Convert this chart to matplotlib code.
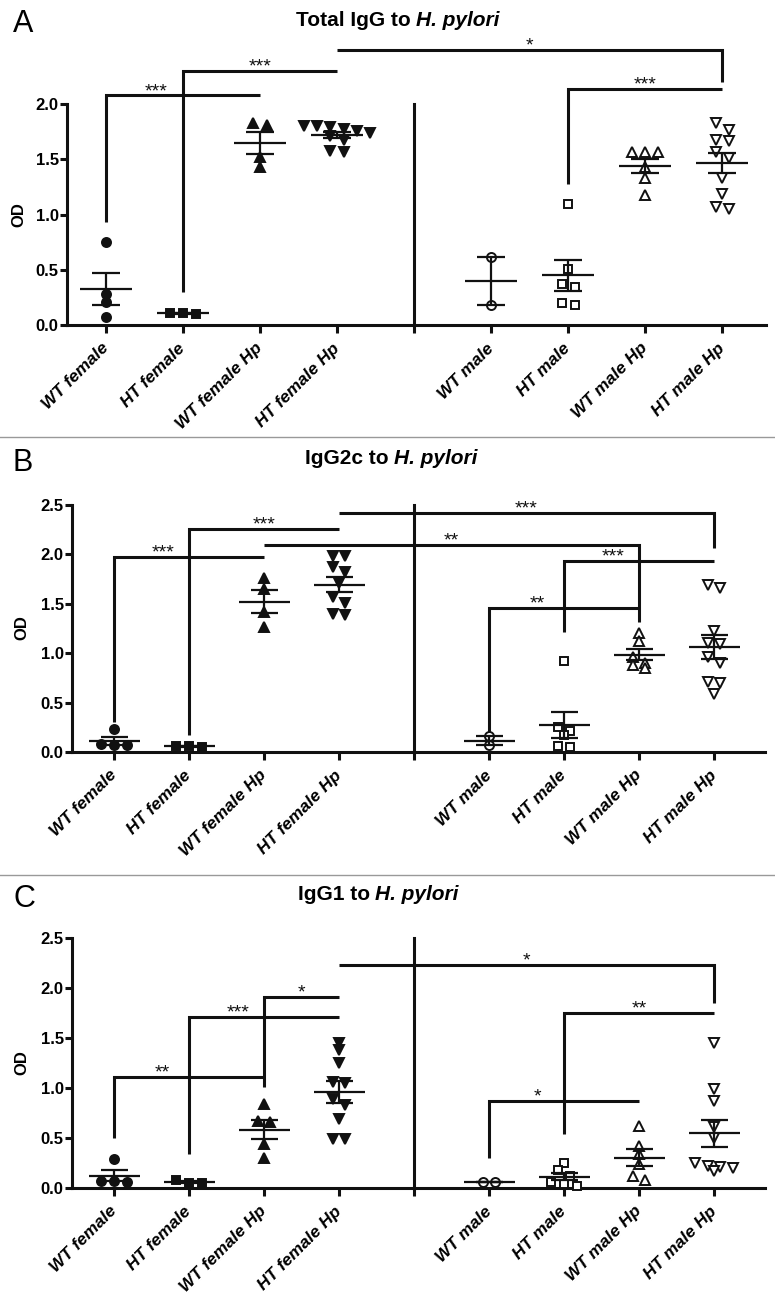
import numpy as np
import matplotlib
matplotlib.use("Agg")
import matplotlib.pyplot as plt
from matplotlib.lines import Line2D

plt.rcParams['font.family'] = ['Liberation Sans', 'DejaVu Sans']

W, H = 775, 1313

groups = ["WT female", "HT female", "WT female Hp", "HT female Hp",
          "WT male", "HT male", "WT male Hp", "HT male Hp"]

# OD per mouse
# A: total IgG
tot_wt_f = [0.75, 0.28, 0.21, 0.07]
tot_ht_f = [0.11, 0.10, 0.11]
tot_wt_f_hp = [1.83, 1.81, 1.52, 1.43]
tot_ht_f_hp = [1.80, 1.80, 1.79, 1.78, 1.76, 1.74, 1.71, 1.68, 1.58, 1.57]
tot_wt_m = [0.62, 0.18]
tot_ht_m = [1.10, 0.51, 0.37, 0.34, 0.20, 0.18]
tot_wt_m_hp = [1.57, 1.57, 1.57, 1.43, 1.33, 1.18]
tot_ht_m_hp = [1.83, 1.77, 1.68, 1.67, 1.57, 1.51, 1.33, 1.19, 1.07, 1.05]

# B: IgG2c
g2c_wt_f = [0.23, 0.08, 0.07, 0.07]
g2c_ht_f = [0.06, 0.05, 0.06]
g2c_wt_f_hp = [1.76, 1.65, 1.42, 1.26]
g2c_ht_f_hp = [1.98, 1.98, 1.875, 1.825, 1.71, 1.57, 1.505, 1.40, 1.39]
g2c_wt_m = [0.07, 0.16]
g2c_ht_m = [0.92, 0.25, 0.21, 0.17, 0.06, 0.05]
g2c_wt_m_hp = [1.20, 1.12, 0.965, 0.90, 0.88, 0.85]
g2c_ht_m_hp = [1.69, 1.66, 1.225, 1.10, 1.09, 0.965, 0.90, 0.71, 0.70, 0.59]

# C: IgG1
g1_wt_f = [0.29, 0.07, 0.07, 0.06]
g1_ht_f = [0.08, 0.05, 0.05]
g1_wt_f_hp = [0.84, 0.67, 0.66, 0.44, 0.30]
g1_ht_f_hp = [1.45, 1.38, 1.25, 1.06, 1.05, 0.89, 0.83, 0.69, 0.49, 0.49]
g1_wt_m = [0.06, 0.06]
g1_ht_m = [0.25, 0.18, 0.12, 0.06, 0.04, 0.02]
g1_wt_m_hp = [0.62, 0.42, 0.34, 0.24, 0.12, 0.08]
g1_ht_m_hp = [1.45, 0.99, 0.87, 0.61, 0.50, 0.25, 0.22, 0.21, 0.20, 0.17]

# significance bars: (group a, group b, bar height, left drop to, right drop to, label)
sig_tot = [(0, 2, 2.08, 0.935, None, "***"),
           (1, 3, 2.30, 0.30, None, "***"),
           (3, 7, 2.49, None, 2.20, "*"),
           (5, 7, 2.14, 1.275, None, "***")]
sig_g2c = [(0, 2, 1.97, 0.30, None, "***"),
           (1, 3, 2.26, 0.17, None, "***"),
           (2, 6, 2.095, None, 1.32, "**"),
           (3, 7, 2.42, None, 2.06, "***"),
           (5, 7, 1.93, 1.21, None, "***"),
           (4, 6, 1.455, 0.20, None, "**")]
sig_g1 = [(0, 2, 1.11, 0.505, None, "**"),
          (1, 3, 1.71, 0.34, None, "***"),
          (2, 3, 1.91, 1.01, None, "*"),
          (3, 7, 2.23, None, 1.85, "*"),
          (5, 7, 1.75, 0.54, None, "**"),
          (4, 6, 0.875, 0.30, None, "*")]

xpos = [i if i < 4 else i + 1 for i in range(8)]
shapes = ['o', 's', '^', 'v']
msize = [6.5, 6.0, 7.5, 7.5]
ink = '#111111'


def swarm_offsets(vals, thr=0.07, step=0.17):
    vals = np.asarray(vals)
    order = np.argsort(-vals, kind='stable')
    offs = np.zeros(len(vals))
    i = 0
    while i < len(order):
        top = vals[order[i]]
        j = i
        while j < len(order) and top - vals[order[j]] < thr:
            j += 1
        n = j - i
        for k in range(n):
            offs[order[i + k]] = (k - (n - 1) / 2) * step
        i = j
    return offs


def draw_panel(box, xlim, data, sig, ytop, title, letter, title_xy, letter_xy, od_xy):
    left, right, y0, top = box
    ax = fig.add_axes([left / W, 1 - y0 / H, (right - left) / W, (y0 - top) / H])
    ax.set_xlim(*xlim)
    ax.set_ylim(0, 2.6)
    for s in ['top', 'right']:
        ax.spines[s].set_visible(False)
    for s in ['left', 'bottom']:
        ax.spines[s].set_linewidth(2.2)
        ax.spines[s].set_color(ink)
    ax.spines['left'].set_bounds(0, ytop)
    ax.set_yticks(np.arange(0, ytop + 0.01, 0.5))
    ax.set_yticklabels([f"{v:.1f}" for v in np.arange(0, ytop + 0.01, 0.5)],
                       fontsize=12, fontweight='bold')
    ax.set_xticks(list(range(9)))
    ax.set_xticklabels(groups[:4] + [""] + groups[4:], rotation=45, ha='right',
                       va='center', rotation_mode='anchor', fontsize=12.5,
                       fontweight='bold', fontstyle='italic')
    ax.tick_params(axis='y', length=5, width=2.2, pad=1, color=ink)
    ax.tick_params(axis='x', length=6, width=2.2, pad=9, color=ink)

    # axis break between female and male groups
    ax.plot([4, 4], [0, ytop], color=ink, lw=2.2, clip_on=False, zorder=2)

    # vertical strokes, used to keep star labels off them
    verticals = [(4, 0, ytop)]
    for a, b, h, lo_l, lo_r, lab in sig:
        if lo_l is not None:
            verticals.append((xpos[a], lo_l, h))
        if lo_r is not None:
            verticals.append((xpos[b], lo_r, h))

    for a, b, h, lo_l, lo_r, lab in sig:
        xa, xb = xpos[a], xpos[b]
        xs, ys = [xa, xb], [h, h]
        if lo_l is not None:
            xs, ys = [xa] + xs, [lo_l] + ys
        if lo_r is not None:
            xs, ys = xs + [xb], ys + [lo_r]
        ax.plot(xs, ys, color=ink, lw=2.2, solid_joinstyle='miter',
                solid_capstyle='butt', clip_on=False, zorder=2)
        mid = (xa + xb) / 2
        if any(abs(vx - mid) < 0.25 and vlo <= h <= vhi + 0.01 for vx, vlo, vhi in verticals):
            mid -= 0.35
        ax.annotate(lab, (mid, h), xytext=(0, -0.5), textcoords='offset points',
                    ha='center', va='baseline', fontsize=14, color=ink,
                    annotation_clip=False)

    for g, vals in enumerate(data):
        v = np.array(vals)
        x = xpos[g]
        m = v.mean()
        se = v.std(ddof=1) / np.sqrt(len(v))
        female = g < 4
        ax.plot(x + swarm_offsets(v), v, ls='none', marker=shapes[g % 4], ms=msize[g % 4],
                mfc=ink if female else 'white', mec=ink, mew=1.4, clip_on=False, zorder=3)
        kw = dict(color=ink, lw=1.6, zorder=4, solid_capstyle='butt')
        ax.plot([x - 0.34, x + 0.34], [m, m], **kw)
        ax.plot([x - 0.18, x + 0.18], [m + se, m + se], **kw)
        ax.plot([x - 0.18, x + 0.18], [m - se, m - se], **kw)
        ax.plot([x, x], [m - se, m + se], **kw)

    fig.text(od_xy[0] / W, 1 - od_xy[1] / H, "OD", rotation=90, ha='center', va='center',
             fontsize=12, fontweight='bold')
    fig.text(letter_xy[0] / W, 1 - letter_xy[1] / H, letter, ha='center', va='center',
             fontsize=22)
    # title: plain bold part + bold italic species name
    t1 = fig.text(0, 1 - title_xy[1] / H, title, ha='left', va='center',
                  fontsize=15, fontweight='bold')
    t2 = fig.text(0, 1 - title_xy[1] / H, "H. pylori", ha='left', va='center',
                  fontsize=15, fontweight='bold', fontstyle='italic')
    r = fig.canvas.get_renderer()
    w1 = t1.get_window_extent(r).width
    w2 = t2.get_window_extent(r).width
    gap = 5
    x0 = title_xy[0] - (w1 + gap + w2) / 2
    t1.set_x(x0 / W)
    t2.set_x((x0 + w1 + gap) / W)
    return ax


fig = plt.figure(figsize=(W / 100, H / 100), dpi=100)

draw_panel((67, 766, 325, 38), (-0.506, 8.57),
           [tot_wt_f, tot_ht_f, tot_wt_f_hp, tot_ht_f_hp,
            tot_wt_m, tot_ht_m, tot_wt_m_hp, tot_ht_m_hp],
           sig_tot, 2.0, "Total IgG to", "A", (398, 21), (23, 24), (19, 215))
draw_panel((72, 765, 752, 495), (-0.56, 8.68),
           [g2c_wt_f, g2c_ht_f, g2c_wt_f_hp, g2c_ht_f_hp,
            g2c_wt_m, g2c_ht_m, g2c_wt_m_hp, g2c_ht_m_hp],
           sig_g2c, 2.5, "IgG2c to", "B", (391, 458), (23, 463), (22, 628))
draw_panel((72, 765, 1188, 928), (-0.56, 8.68),
           [g1_wt_f, g1_ht_f, g1_wt_f_hp, g1_ht_f_hp,
            g1_wt_m, g1_ht_m, g1_wt_m_hp, g1_ht_m_hp],
           sig_g1, 2.5, "IgG1 to", "C", (378, 895), (24, 899), (22, 1063))

for yy in [437, 875]:
    fig.add_artist(Line2D([0, 1], [1 - yy / H, 1 - yy / H], transform=fig.transFigure,
                          color='#999999', lw=1.0))

fig.savefig("out.png", dpi=100)
